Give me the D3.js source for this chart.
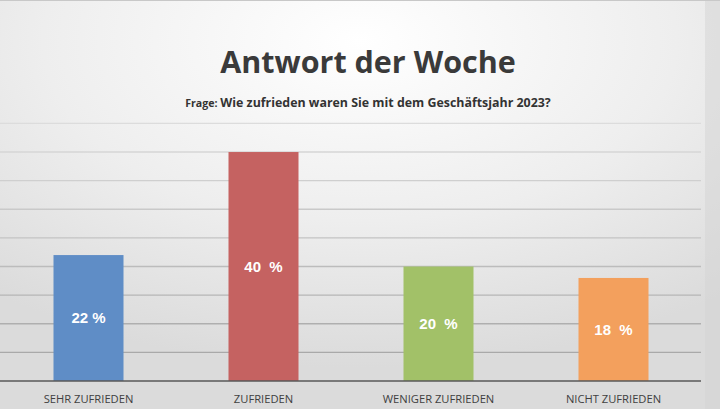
<!DOCTYPE html>
<html>
<head>
<meta charset="utf-8">
<script src="https://cdn.jsdelivr.net/npm/d3@7"></script>
<style>
  html, body { margin: 0; padding: 0; overflow: hidden; }
  text { white-space: pre; }
</style>
</head>
<body>
<script>
var categories = ["SEHR ZUFRIEDEN", "ZUFRIEDEN", "WENIGER ZUFRIEDEN", "NICHT ZUFRIEDEN"];
var values = [22, 40, 20, 18];
var valueLabels = ["22 %", "40  %", "20  %", "18  %"];
var colors = ["#5f8dc6", "#c56261", "#a2c168", "#f3a05d"];
var gridTicks = [5, 10, 15, 20, 25, 30, 35, 40, 45];

var width = 720,
    height = 409;

var svg = d3.select("body").append("svg")
    .attr("width", width)
    .attr("height", height);

// background: light centre at the top, greyer at the edges
var defs = svg.append("defs");
var bg = defs.append("radialGradient")
    .attr("id", "bg")
    .attr("cx", "50%").attr("cy", "10%")
    .attr("r", "80%");
bg.append("stop").attr("offset", "0%").attr("stop-color", "#ffffff");
bg.append("stop").attr("offset", "55%").attr("stop-color", "#eeeeee");
bg.append("stop").attr("offset", "100%").attr("stop-color", "#dbdbdb");

svg.append("rect")
    .attr("width", width)
    .attr("height", height)
    .attr("fill", "url(#bg)");

svg.append("rect")
    .attr("x", 705).attr("y", 0)
    .attr("width", 15).attr("height", height)
    .attr("fill", "#d4d4d4")
    .attr("opacity", 0.5);

svg.append("line")
    .attr("x1", 0).attr("x2", width)
    .attr("y1", 0.5).attr("y2", 0.5)
    .attr("stroke", "#c8c8c8");

var x = d3.scaleBand()
    .domain(categories)
    .range([1, 701])
    .paddingInner(0.6)
    .paddingOuter(0.3);

var y = d3.scaleLinear()
    .domain([0, 45])
    .range([381, 123.4]);

var gridShade = d3.scaleLinear()
    .domain([5, 45])
    .range(["#a9a9a9", "#dcdcdc"]);

svg.append("g").selectAll("line")
  .data(gridTicks)
  .join("line")
    .attr("x1", 0)
    .attr("x2", 701)
    .attr("y1", d => y(d))
    .attr("y2", d => y(d))
    .attr("stroke", d => gridShade(d))
    .attr("stroke-width", 1.3);

svg.append("g").selectAll("rect")
  .data(values)
  .join("rect")
    .attr("x", (d, i) => x(categories[i]))
    .attr("y", d => y(d))
    .attr("width", x.bandwidth())
    .attr("height", d => y(0) - y(d))
    .attr("fill", (d, i) => colors[i]);

// baseline
svg.append("line")
    .attr("x1", 0).attr("x2", 701)
    .attr("y1", y(0)).attr("y2", y(0))
    .attr("stroke", "#595959")
    .attr("stroke-width", 1.5);

svg.append("g").selectAll("text")
  .data(valueLabels)
  .join("text")
    .attr("x", (d, i) => x(categories[i]) + x.bandwidth() / 2)
    .attr("y", (d, i) => (y(values[i]) + y(0)) / 2)
    .attr("dy", "0.36em")
    .attr("text-anchor", "middle")
    .attr("font-family", "Liberation Sans, Arial, sans-serif")
    .attr("font-weight", "bold")
    .attr("font-size", "15px")
    .attr("fill", "white")
    .text(d => d);

svg.append("g").selectAll("text")
  .data(categories)
  .join("text")
    .attr("x", d => x(d) + x.bandwidth() / 2)
    .attr("y", 403)
    .attr("text-anchor", "middle")
    .attr("font-family", "Open Sans, sans-serif")
    .attr("font-size", "11.2px")
    .attr("fill", "#404040")
    .text(d => d);

svg.append("text")
    .attr("x", 368)
    .attr("y", 73)
    .attr("text-anchor", "middle")
    .attr("font-family", "Open Sans, sans-serif")
    .attr("font-weight", "bold")
    .attr("font-size", "30.5px")
    .attr("fill", "#3a3a3a")
    .text("Antwort der Woche");

var sub = svg.append("text")
    .attr("x", 368)
    .attr("y", 107)
    .attr("text-anchor", "middle")
    .attr("font-family", "Open Sans, sans-serif")
    .attr("font-weight", "bold")
    .attr("font-size", "12.4px")
    .attr("fill", "#333");
sub.append("tspan").attr("font-size", "10.6px").text("Frage: ");
sub.append("tspan").text("Wie zufrieden waren Sie mit dem Geschäftsjahr 2023?");
</script>
</body>
</html>
